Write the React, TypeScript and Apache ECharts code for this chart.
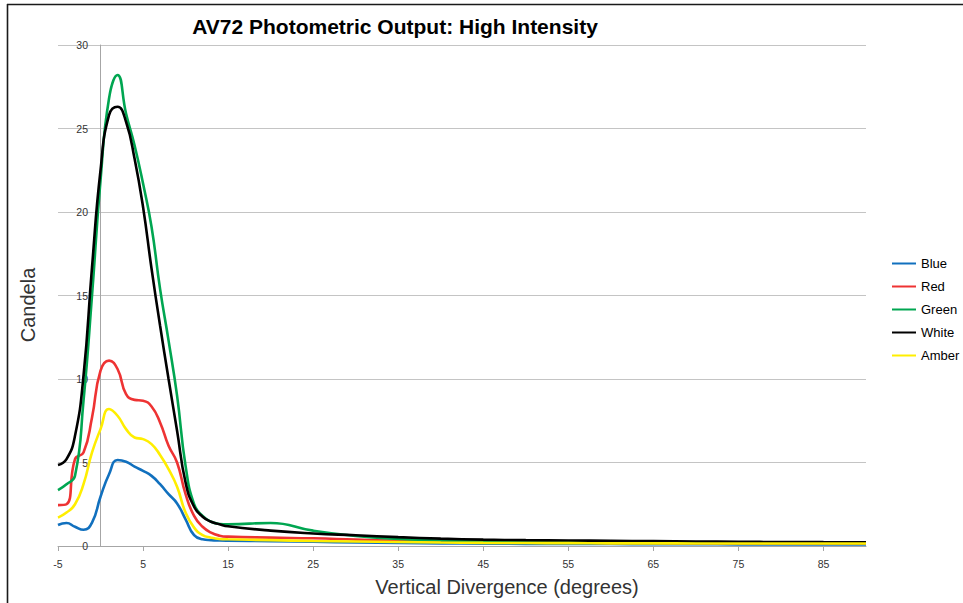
import React, { useEffect, useRef } from "react";
import * as echarts from "echarts";

const xs = [-5, -4, -3, -2, -1, 0, 1, 2, 3, 4, 5, 6, 7, 8, 9, 10, 11, 12, 13, 14, 15, 20, 25, 30, 35, 40, 45, 50, 55, 60, 65, 70, 75, 80, 85, 90];

const blue = [1.26, 1.38, 1.15, 0.97, 1.4, 2.95, 4.3, 5.15, 5.05, 4.75, 4.5, 4.2, 3.7, 3.1, 2.55, 1.6, 0.65, 0.4, 0.35, 0.33, 0.32,
  0.29, 0.25, 0.21, 0.18, 0.16, 0.14, 0.13, 0.12, 0.12, 0.11, 0.11, 0.1, 0.1, 0.1, 0.1];
const red = [2.45, 2.5, 5.2, 5.6, 7.7, 10.5, 11.1, 10.6, 9.1, 8.75, 8.7, 8.35, 7.4, 6.0, 5.0, 3.1, 1.8, 1.15, 0.8, 0.62, 0.56,
  0.5, 0.46, 0.38, 0.31, 0.26, 0.23, 0.21, 0.2, 0.19, 0.18, 0.17, 0.16, 0.16, 0.15, 0.15];
const green = [3.35, 3.7, 4.2, 8.7, 15.0, 21.9, 26.8, 28.2, 25.9, 24.0, 21.7, 19.1, 15.4, 12.3, 9.0, 4.8, 2.5, 1.8, 1.45, 1.32, 1.3,
  1.38, 0.92, 0.6, 0.42, 0.33, 0.29, 0.26, 0.24, 0.22, 0.21, 0.2, 0.19, 0.18, 0.18, 0.18];
const white = [4.85, 5.2, 6.6, 10.2, 16.7, 22.5, 25.8, 26.3, 25.4, 23.2, 20.3, 16.6, 13.2, 10.0, 6.9, 3.8, 2.35, 1.75, 1.45, 1.3, 1.18,
  0.92, 0.75, 0.64, 0.53, 0.44, 0.38, 0.35, 0.33, 0.31, 0.29, 0.27, 0.25, 0.24, 0.23, 0.22];
const amber = [1.7, 2.0, 2.5, 3.7, 5.6, 7.0, 8.2, 7.8, 7.0, 6.5, 6.4, 6.1, 5.45, 4.6, 3.55, 2.0, 1.1, 0.65, 0.5, 0.42, 0.4,
  0.35, 0.3, 0.27, 0.24, 0.21, 0.19, 0.18, 0.17, 0.16, 0.16, 0.15, 0.15, 0.15, 0.15, 0.15];

const seriesNames = ["Blue", "Red", "Green", "White", "Amber"];
const seriesValues = [blue, red, green, white, amber];
const seriesColors = ["#1170be", "#ee3333", "#00a651", "#000000", "#ffee00"];

const xTickValues = [-5, 5, 15, 25, 35, 45, 55, 65, 75, 85];

const titleText = "AV72 Photometric Output: High Intensity";
const xTitle = "Vertical Divergence (degrees)";
const yTitle = "Candela";

const FONT = "'Liberation Sans', Arial, sans-serif";

export default function App() {
  const ref = useRef<HTMLDivElement>(null);
  useEffect(() => {
    document.body.style.margin = "0";
    const chart = echarts.init(ref.current!, null, { renderer: "svg" });
    const series = seriesNames.map((name, k) => ({
      name,
      type: "line",
      smooth: true,
      symbol: "none",
      data: xs.map((x, i) => [x, seriesValues[k][i]]),
      lineStyle: { width: 2.6, color: seriesColors[k] },
      itemStyle: { color: seriesColors[k] },
    }));
    chart.setOption({
      animation: false,
      backgroundColor: "#ffffff",
      grid: { left: 58, right: 97, top: 45, bottom: 57 },
      xAxis: {
        type: "value",
        min: -5,
        max: 90,
        interval: 10,
        axisLine: { show: true, lineStyle: { color: "#a6a6a6", width: 1 } },
        axisTick: { show: true, length: 5, customValues: xTickValues, lineStyle: { color: "#a6a6a6" } },
        axisLabel: { customValues: xTickValues, fontSize: 10.5, color: "#333333", margin: 12, fontFamily: FONT },
        splitLine: { show: false },
      },
      yAxis: {
        type: "value",
        min: 0,
        max: 30,
        interval: 5,
        axisLine: { show: true, onZero: true, lineStyle: { color: "#a6a6a6", width: 1 } },
        axisTick: { show: false },
        axisLabel: { fontSize: 10.5, color: "#333333", margin: -30, fontFamily: FONT },
        splitLine: { show: true, lineStyle: { color: "#c4c4c4", width: 1 } },
      },
      legend: {
        orient: "vertical",
        left: 891,
        top: 257,
        padding: 0,
        itemWidth: 24,
        itemHeight: 14,
        itemGap: 10,
        data: seriesNames,
        itemStyle: { opacity: 0 },
        textStyle: { fontSize: 13, color: "#000000", fontFamily: FONT },
      },
      series,
      graphic: [
        { type: "line", shape: { x1: 7, y1: 4.5, x2: 963, y2: 4.5 }, style: { stroke: "#1a1a1a", lineWidth: 1.6 } },
        { type: "line", shape: { x1: 7.5, y1: 4, x2: 7.5, y2: 603 }, style: { stroke: "#1a1a1a", lineWidth: 1.6 } },
        {
          type: "text",
          x: 395,
          y: 26,
          style: {
            text: titleText,
            font: `bold 21px ${FONT}`,
            fill: "#000000",
            align: "center",
            verticalAlign: "middle",
            textAlign: "center",
            textVerticalAlign: "middle",
          },
        },
        {
          type: "text",
          x: 507,
          y: 587,
          style: {
            text: xTitle,
            font: `20px ${FONT}`,
            fill: "#333333",
            align: "center",
            verticalAlign: "middle",
            textAlign: "center",
            textVerticalAlign: "middle",
          },
        },
        {
          type: "text",
          x: 28,
          y: 305,
          rotation: Math.PI / 2,
          style: {
            text: yTitle,
            font: `20px ${FONT}`,
            fill: "#333333",
            align: "center",
            verticalAlign: "middle",
            textAlign: "center",
            textVerticalAlign: "middle",
          },
        },
      ],
    });
    return () => chart.dispose();
  }, []);
  return <div ref={ref} style={{ width: 963, height: 603 }} />;
}
